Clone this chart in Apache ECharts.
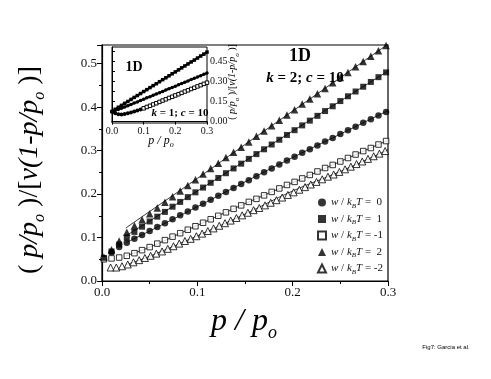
<!DOCTYPE html>
<html>
<head>
<meta charset="utf-8">
<script src="https://cdn.jsdelivr.net/npm/echarts@6/dist/echarts.min.js"></script>
<style>
  html, body { margin: 0; padding: 0; background: #fff; }
  #chart { width: 491px; height: 379px; }
</style>
</head>
<body>
<div id="chart"></div>
<script>
// main panel: p/po values of the filled series and of the open squares
const xFilled = [0.002, 0.010, 0.018, 0.026, 0.034, 0.042, 0.050, 0.058, 0.066, 0.074,
  0.082, 0.090, 0.098, 0.106, 0.114, 0.122, 0.130, 0.138, 0.146, 0.154,
  0.162, 0.170, 0.178, 0.186, 0.194, 0.202, 0.210, 0.218, 0.226, 0.234,
  0.242, 0.250, 0.258, 0.266, 0.274, 0.282, 0.290, 0.298];
const yW0 = [0.052, 0.066, 0.078, 0.088, 0.097, 0.106, 0.115, 0.124, 0.133, 0.142,
  0.151, 0.160, 0.169, 0.178, 0.187, 0.196, 0.205, 0.214, 0.223, 0.232,
  0.241, 0.250, 0.259, 0.268, 0.277, 0.286, 0.295, 0.303, 0.312, 0.321,
  0.329, 0.338, 0.347, 0.355, 0.364, 0.372, 0.381, 0.389];
const yW1 = [0.053, 0.068, 0.084, 0.100, 0.113, 0.125, 0.137, 0.148, 0.159, 0.171,
  0.182, 0.193, 0.204, 0.215, 0.226, 0.237, 0.248, 0.259, 0.270, 0.281,
  0.292, 0.303, 0.314, 0.325, 0.336, 0.347, 0.358, 0.369, 0.380, 0.391,
  0.402, 0.414, 0.425, 0.436, 0.447, 0.458, 0.469, 0.480];
const yW2 = [0.055, 0.072, 0.092, 0.112, 0.127, 0.141, 0.155, 0.168, 0.181, 0.194,
  0.207, 0.220, 0.233, 0.246, 0.259, 0.271, 0.284, 0.296, 0.308, 0.320,
  0.333, 0.345, 0.357, 0.370, 0.382, 0.394, 0.407, 0.419, 0.431, 0.443,
  0.456, 0.468, 0.480, 0.493, 0.505, 0.517, 0.530, 0.542];
const yWm1 = [0.050, 0.052, 0.054, 0.058, 0.064, 0.071, 0.078, 0.086, 0.094, 0.102,
  0.110, 0.118, 0.126, 0.134, 0.142, 0.150, 0.158, 0.166, 0.174, 0.182,
  0.189, 0.197, 0.205, 0.213, 0.221, 0.228, 0.236, 0.244, 0.252, 0.260,
  0.267, 0.275, 0.283, 0.291, 0.299, 0.306, 0.314, 0.322];
// open triangles have their own p/po values
const xOpenTri = [0.009, 0.015, 0.021, 0.027, 0.033, 0.039, 0.045, 0.051, 0.057, 0.063,
  0.069, 0.075, 0.081, 0.087, 0.093, 0.099, 0.105, 0.111, 0.117, 0.123,
  0.129, 0.135, 0.141, 0.147, 0.153, 0.159, 0.165, 0.171, 0.177, 0.183,
  0.189, 0.195, 0.201, 0.207, 0.213, 0.219, 0.225, 0.231, 0.237, 0.243,
  0.249, 0.255, 0.261, 0.267, 0.273, 0.279, 0.285, 0.291, 0.297];
const yWm2 = [0.031, 0.031, 0.034, 0.038, 0.043, 0.048, 0.053, 0.058, 0.063, 0.068,
  0.074, 0.080, 0.086, 0.092, 0.097, 0.103, 0.109, 0.115, 0.121, 0.127,
  0.133, 0.139, 0.145, 0.151, 0.157, 0.163, 0.168, 0.174, 0.180, 0.186,
  0.192, 0.198, 0.204, 0.210, 0.216, 0.222, 0.228, 0.234, 0.240, 0.245,
  0.251, 0.257, 0.263, 0.269, 0.275, 0.281, 0.287, 0.293, 0.299];

// theory curves (thin lines)
const lineX = [0.025, 0.05, 0.1, 0.15, 0.2, 0.25, 0.3];
const lineW2 = [0.122, 0.160, 0.236, 0.314, 0.391, 0.468, 0.545];
const lineW1 = [0.104, 0.138, 0.207, 0.276, 0.345, 0.414, 0.483];
const lineW0 = [0.088, 0.115, 0.171, 0.228, 0.284, 0.338, 0.392];
const lineWm1 = [0.058, 0.078, 0.128, 0.178, 0.226, 0.275, 0.324];
const lineWm2 = [0.037, 0.057, 0.104, 0.154, 0.207, 0.252, 0.302];

// inset (k = 1)
const inX = [0, 0.01, 0.02, 0.03, 0.04, 0.05, 0.06, 0.07, 0.08, 0.09, 0.10,
  0.11, 0.12, 0.13, 0.14, 0.15, 0.16, 0.17, 0.18, 0.19, 0.20,
  0.21, 0.22, 0.23, 0.24, 0.25, 0.26, 0.27, 0.28, 0.29, 0.30];
const inTop = [0.075, 0.092, 0.107, 0.121, 0.136, 0.150, 0.165, 0.180, 0.194, 0.209, 0.224,
  0.238, 0.253, 0.268, 0.282, 0.297, 0.312, 0.326, 0.341, 0.356, 0.370,
  0.385, 0.400, 0.414, 0.429, 0.444, 0.458, 0.473, 0.488, 0.502, 0.517];
const inMid = [0.075, 0.083, 0.091, 0.099, 0.109, 0.118, 0.128, 0.138, 0.147, 0.157, 0.167,
  0.177, 0.186, 0.196, 0.206, 0.215, 0.225, 0.235, 0.245, 0.254, 0.264,
  0.274, 0.284, 0.293, 0.303, 0.313, 0.322, 0.332, 0.342, 0.352, 0.362];
const inBot = [0.075, 0.062, 0.055, 0.054, 0.057, 0.062, 0.068, 0.075, 0.083, 0.091, 0.099,
  0.109, 0.118, 0.128, 0.137, 0.147, 0.157, 0.166, 0.176, 0.185, 0.195,
  0.204, 0.214, 0.224, 0.233, 0.243, 0.252, 0.262, 0.271, 0.281, 0.290];

const legendNames = ['w0', 'w1', 'wm1', 'w2', 'wm2'];
const legendValues = ['  0', '  1', ' -1', '  2', ' -2'];

const SERIF = 'Liberation Serif';
const pair = (xs, ys) => xs.map((x, i) => [x, ys[i]]);

const chart = echarts.init(document.getElementById('chart'), null, { renderer: 'canvas' });

const openStyle = { color: '#fff', borderColor: '#000', borderWidth: 1 };
const fillStyle = { color: '#000' };

function theory(ys) {
  return {
    type: 'line', data: pair(lineX, ys), showSymbol: false, smooth: true,
    lineStyle: { color: '#000', width: 0.8 }, z: 1, silent: true,
  };
}

const ratioRich = (fs, ss) => ({
  r: { fontFamily: SERIF, fontSize: fs, lineHeight: fs + 8, fill: '#000' },
  i: { fontFamily: SERIF, fontSize: fs, fontStyle: 'italic', lineHeight: fs + 8, fill: '#000' },
  s: { fontFamily: SERIF, fontSize: ss, fontStyle: 'italic', verticalAlign: 'bottom', lineHeight: ss, fill: '#000' },
});
const ratioText = '{r|( }{i|p/p}{s|o}{r| )/[}{i|v(1-p/p}{s|o}{r| )]}';

const option = {
  backgroundColor: '#fff',
  animation: false,
  grid: [
    { left: 102, top: 45, width: 286, height: 236, show: true, borderColor: '#000', borderWidth: 1.2, backgroundColor: 'transparent' },
    { left: 112, top: 47, width: 95, height: 76, show: true, borderColor: '#000', borderWidth: 1, backgroundColor: '#fff', z: 5 },
  ],
  xAxis: [
    {
      gridIndex: 0, type: 'value', min: 0, max: 0.3, interval: 0.1,
      axisLine: { lineStyle: { color: '#000', width: 1.2 } },
      axisTick: { length: 5, lineStyle: { color: '#000' } },
      minorTick: { show: true, splitNumber: 2, length: 3, lineStyle: { color: '#000' } },
      splitLine: { show: false },
      axisLabel: { fontFamily: SERIF, fontSize: 13, color: '#111', margin: 5, formatter: v => v.toFixed(1) },
    },
    {
      gridIndex: 1, type: 'value', min: 0, max: 0.3, interval: 0.1,
      axisLine: { lineStyle: { color: '#000' } },
      axisTick: { length: 3, lineStyle: { color: '#000' } },
      splitLine: { show: false },
      axisLabel: { fontFamily: SERIF, fontSize: 10, color: '#111', margin: 3, formatter: v => v.toFixed(1) },
      z: 6,
    },
  ],
  yAxis: [
    {
      gridIndex: 0, type: 'value', min: 0, max: 0.543, interval: 0.1,
      axisLine: { show: true, lineStyle: { color: '#000', width: 1.2 } },
      axisTick: { show: true, length: 5, lineStyle: { color: '#000' } },
      minorTick: { show: true, splitNumber: 2, length: 3, lineStyle: { color: '#000' } },
      splitLine: { show: false },
      axisLabel: { fontFamily: SERIF, fontSize: 13, color: '#111', margin: 5, showMaxLabel: false,
        formatter: v => (Math.abs(v * 10 - Math.round(v * 10)) < 1e-6 ? v.toFixed(1) : '') },
    },
    {
      gridIndex: 1, type: 'value', position: 'right', min: -0.01, max: 0.555,
      axisLine: { show: true, lineStyle: { color: '#000' } },
      axisTick: { show: true, length: 3, lineStyle: { color: '#000' }, customValues: [0, 0.075, 0.15, 0.225, 0.3, 0.375, 0.45, 0.525] },
      splitLine: { show: false },
      axisLabel: { fontFamily: SERIF, fontSize: 10, color: '#111', margin: 3, customValues: [0, 0.15, 0.3, 0.45],
        formatter: v => v.toFixed(2) },
      z: 6,
    },
  ],
  legend: {
    orient: 'vertical', left: 312, top: 192, itemGap: 4, itemWidth: 8, itemHeight: 8,
    data: legendNames,
    formatter: name => '{i|w} / {i|k}{s|B}{i|T} =' + legendValues[legendNames.indexOf(name)],
    textStyle: {
      fontFamily: SERIF, fontSize: 11, color: '#111', padding: [0, 0, 0, 0],
      rich: {
        i: { fontFamily: SERIF, fontSize: 11, fontStyle: 'italic', lineHeight: 14 },
        s: { fontFamily: SERIF, fontSize: 7, fontStyle: 'italic', verticalAlign: 'bottom', lineHeight: 7 },
      },
    },
  },
  series: [
    theory(lineW2), theory(lineW1), theory(lineW0), theory(lineWm1), theory(lineWm2),
    { name: 'w0', type: 'scatter', data: pair(xFilled, yW0), symbol: 'circle', symbolSize: 6.5, itemStyle: fillStyle, z: 3 },
    { name: 'w1', type: 'scatter', data: pair(xFilled, yW1), symbol: 'rect', symbolSize: 6, itemStyle: fillStyle, z: 3 },
    { name: 'wm1', type: 'scatter', data: pair(xFilled, yWm1), symbol: 'rect', symbolSize: 5.5, itemStyle: openStyle, z: 3 },
    { name: 'w2', type: 'scatter', data: pair(xFilled, yW2), symbol: 'triangle', symbolSize: 7.5, itemStyle: fillStyle, z: 3 },
    { name: 'wm2', type: 'scatter', data: pair(xOpenTri, yWm2), symbol: 'triangle', symbolSize: 7, itemStyle: openStyle, z: 3 },
    // inset curves
    { type: 'line', xAxisIndex: 1, yAxisIndex: 1, data: pair(inX, inTop), symbol: 'rect', symbolSize: 3.5,
      itemStyle: fillStyle, lineStyle: { color: '#000', width: 2 }, z: 7 },
    { type: 'line', xAxisIndex: 1, yAxisIndex: 1, data: pair(inX, inMid), symbol: 'circle', symbolSize: 3.5,
      itemStyle: fillStyle, lineStyle: { color: '#000', width: 2 }, z: 7 },
    { type: 'line', xAxisIndex: 1, yAxisIndex: 1, z: 7,
      data: inX.map((x, i) => ({ value: [x, inBot[i]], symbol: x < 0.1 ? 'circle' : 'rect',
        symbolSize: x < 0.1 ? 4 : 3.5, itemStyle: x < 0.1 ? fillStyle : openStyle })),
      lineStyle: { color: '#000', width: 1 } },
  ],
  graphic: [
    { type: 'text', x: 30, y: 170, rotation: Math.PI / 2,
      style: { text: ratioText, rich: ratioRich(28, 16), align: 'center', verticalAlign: 'middle' }, z: 10 },
    { type: 'text', x: 244, y: 322, style: { text: '{i|p / p}{s|o}', rich: {
        i: { fontFamily: SERIF, fontSize: 32, fontStyle: 'italic', lineHeight: 40, fill: '#000' },
        s: { fontFamily: SERIF, fontSize: 18, fontStyle: 'italic', verticalAlign: 'bottom', lineHeight: 18, fill: '#000' } },
      align: 'center', verticalAlign: 'middle' }, z: 10 },
    { type: 'text', x: 161, y: 141, style: { text: '{i|p / p}{s|o}', rich: {
        i: { fontFamily: SERIF, fontSize: 12, fontStyle: 'italic', lineHeight: 16, fill: '#000' },
        s: { fontFamily: SERIF, fontSize: 8, fontStyle: 'italic', verticalAlign: 'bottom', lineHeight: 8, fill: '#000' } },
      align: 'center', verticalAlign: 'middle' }, z: 10 },
    { type: 'text', x: 232, y: 82, rotation: Math.PI / 2,
      style: { text: ratioText, rich: ratioRich(10, 7), align: 'center', verticalAlign: 'middle' }, z: 10 },
    { type: 'text', x: 300, y: 56, style: { text: '1D', fontFamily: SERIF, fontSize: 18, fontWeight: 'bold',
      fill: '#000', align: 'center', verticalAlign: 'middle' }, z: 10 },
    { type: 'text', x: 305, y: 78, style: { text: '{i|k}{r| = 2; }{i|c}{r| = 10}', rich: {
        i: { fontFamily: SERIF, fontSize: 15, fontWeight: 'bold', fontStyle: 'italic', fill: '#000' },
        r: { fontFamily: SERIF, fontSize: 15, fontWeight: 'bold', fill: '#000' } },
      align: 'center', verticalAlign: 'middle' }, z: 10 },
    { type: 'text', x: 134, y: 67, style: { text: '1D', fontFamily: SERIF, fontSize: 14, fontWeight: 'bold',
      fill: '#000', align: 'center', verticalAlign: 'middle' }, z: 10 },
    { type: 'text', x: 180, y: 113, style: { text: '{i|k}{r| = 1; }{i|c}{r| = 10}', rich: {
        i: { fontFamily: SERIF, fontSize: 11, fontWeight: 'bold', fontStyle: 'italic', fill: '#000' },
        r: { fontFamily: SERIF, fontSize: 11, fontWeight: 'bold', fill: '#000' } },
      align: 'center', verticalAlign: 'middle' }, z: 10 },
    { type: 'text', x: 446, y: 347, style: { text: 'Fig7: Garcia et al.', fontFamily: 'Liberation Sans',
      fontSize: 6, fill: '#000', align: 'center', verticalAlign: 'middle' }, z: 10 },
  ],
};

chart.setOption(option);
</script>
</body>
</html>
